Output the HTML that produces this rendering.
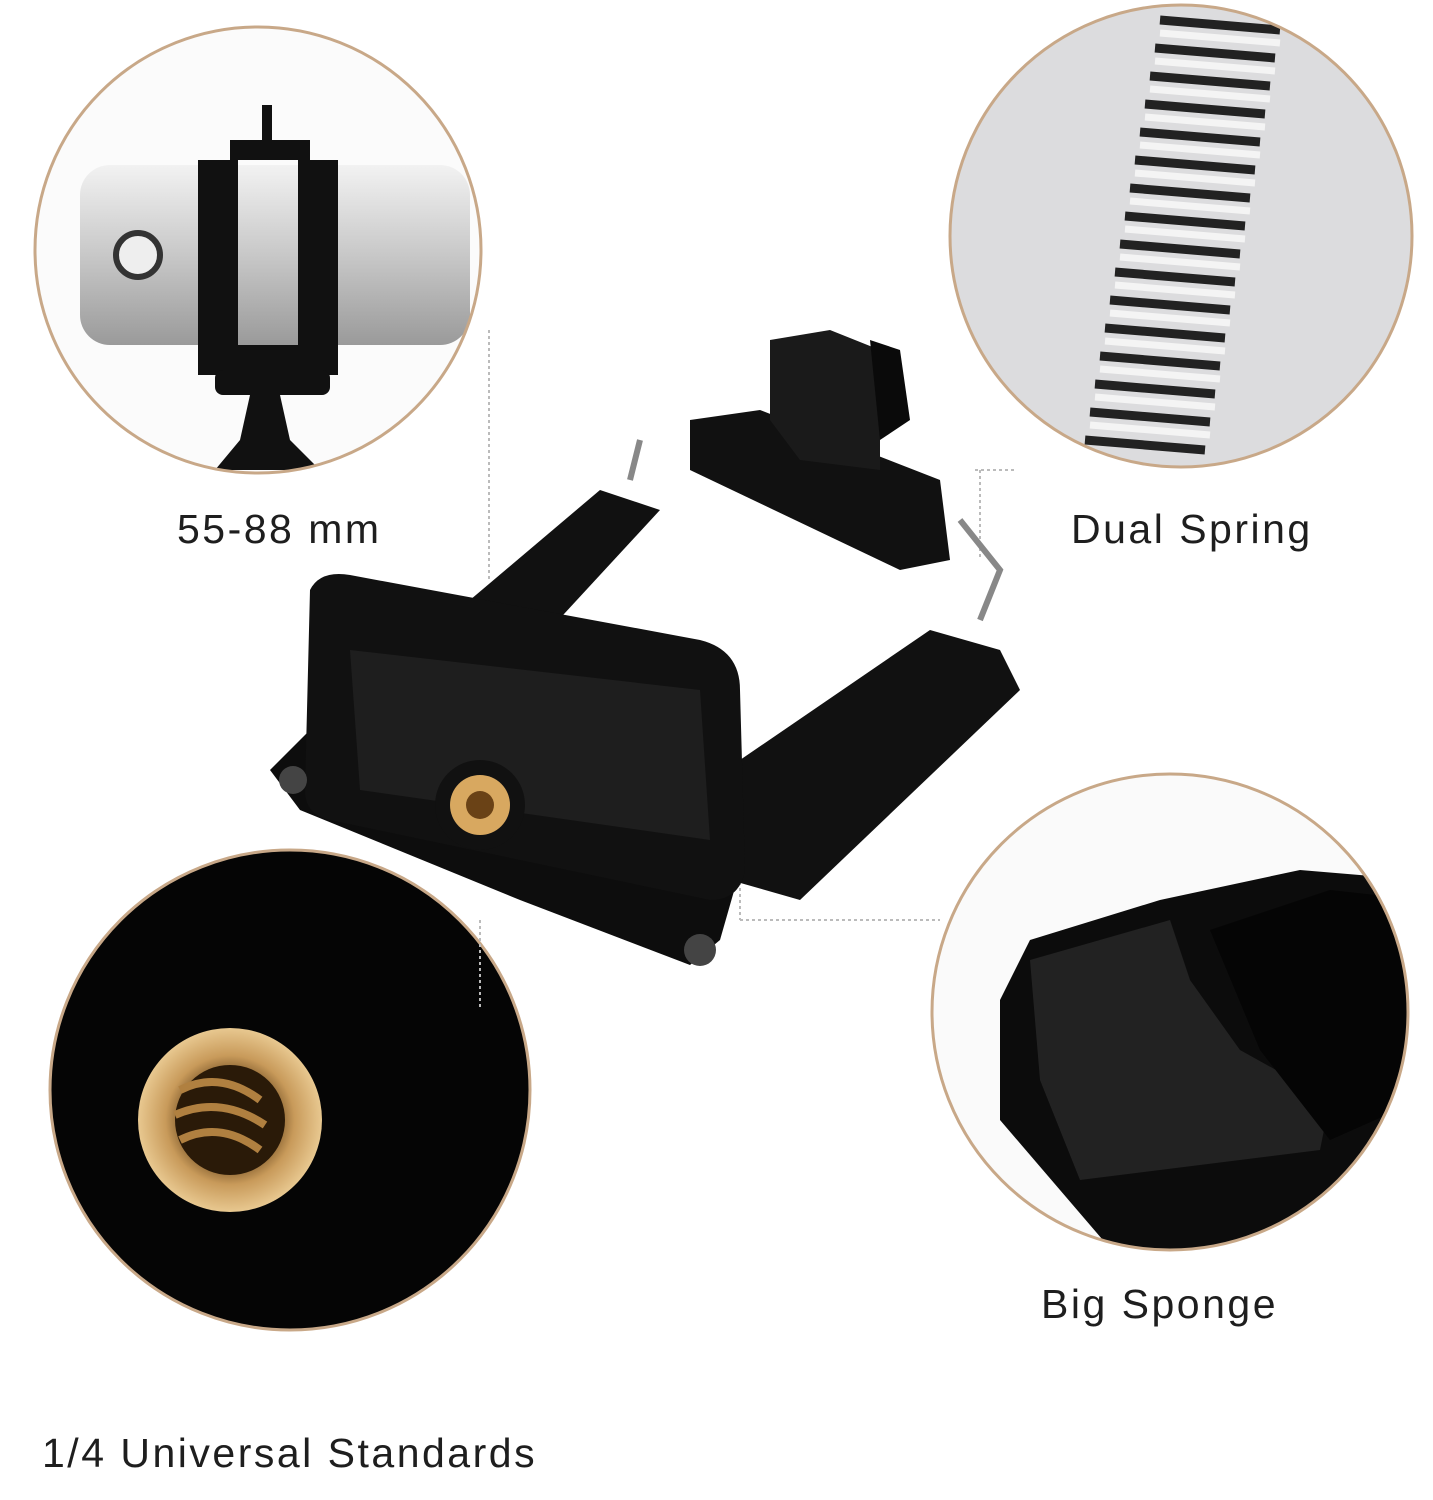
<!DOCTYPE html>
<html><head><meta charset="utf-8"><style>
html,body{margin:0;padding:0;background:#fff;}
body{width:1433px;height:1500px;overflow:hidden;position:relative;font-family:"Liberation Sans",sans-serif;}
.t{position:absolute;font-size:41px;color:#1e1e1e;letter-spacing:2.5px;white-space:nowrap;}
svg{position:absolute;left:0;top:0;}
</style></head><body>
<svg width="1433" height="1500" viewBox="0 0 1433 1500">
<defs>
<clipPath id="c1"><circle cx="258" cy="250" r="223"/></clipPath>
<clipPath id="c2"><circle cx="1181" cy="236" r="231"/></clipPath>
<clipPath id="c3"><circle cx="1170" cy="1012" r="238"/></clipPath>
<clipPath id="c4"><circle cx="290" cy="1090" r="240"/></clipPath>
<linearGradient id="ph" x1="0" y1="0" x2="0" y2="1"><stop offset="0" stop-color="#f2f2f2"/><stop offset="0.5" stop-color="#c8c8c8"/><stop offset="1" stop-color="#9a9a9a"/></linearGradient>
<radialGradient id="gold" cx="0.5" cy="0.5" r="0.5"><stop offset="0.4" stop-color="#5a3a14"/><stop offset="0.7" stop-color="#c89a5a"/><stop offset="1" stop-color="#e8c890"/></radialGradient>
</defs>
<g clip-path="url(#c1)">
<rect x="0" y="0" width="500" height="500" fill="#fbfbfb"/>
<rect x="80" y="165" width="390" height="180" rx="30" fill="url(#ph)"/>
<circle cx="138" cy="255" r="22" fill="#eee" stroke="#333" stroke-width="6"/>
<rect x="198" y="160" width="40" height="205" fill="#111"/>
<rect x="298" y="160" width="40" height="205" fill="#111"/>
<rect x="198" y="345" width="140" height="30" fill="#111"/>
<rect x="230" y="140" width="80" height="20" fill="#111"/>
<rect x="262" y="105" width="10" height="40" fill="#111"/>
<rect x="215" y="370" width="115" height="25" rx="8" fill="#111"/>
<path d="M250 395 L240 440 L215 470 L320 470 L290 440 L280 395 Z" fill="#111"/>
</g>
<circle cx="258" cy="250" r="223" fill="none" stroke="#c8a888" stroke-width="3"/>
<g clip-path="url(#c2)">
<rect x="940" y="0" width="500" height="480" fill="#dcdcde"/>
<g stroke="#222" stroke-width="9" fill="none">
<path d="M1160 20 l120 10 M1155 48 l120 10 M1150 76 l120 10 M1145 104 l120 10 M1140 132 l120 10 M1135 160 l120 10 M1130 188 l120 10 M1125 216 l120 10 M1120 244 l120 10 M1115 272 l120 10 M1110 300 l120 10 M1105 328 l120 10 M1100 356 l120 10 M1095 384 l120 10 M1090 412 l120 10 M1085 440 l120 10"/>
</g>
<g stroke="#f4f4f4" stroke-width="7" fill="none">
<path d="M1160 33 l120 10 M1155 61 l120 10 M1150 89 l120 10 M1145 117 l120 10 M1140 145 l120 10 M1135 173 l120 10 M1130 201 l120 10 M1125 229 l120 10 M1120 257 l120 10 M1115 285 l120 10 M1110 313 l120 10 M1105 341 l120 10 M1100 369 l120 10 M1095 397 l120 10 M1090 425 l120 10"/>
</g>
</g>
<circle cx="1181" cy="236" r="231" fill="none" stroke="#c8a888" stroke-width="3"/>
<g clip-path="url(#c3)">
<rect x="920" y="770" width="500" height="490" fill="#fafafa"/>
<path d="M1000 1000 L1030 940 L1160 900 L1300 870 L1420 880 L1420 1260 L1120 1260 L1000 1120 Z" fill="#0c0c0c"/>
<path d="M1030 960 L1170 920 L1190 980 L1240 1050 L1330 1100 L1320 1150 L1080 1180 L1040 1080 Z" fill="#222"/>
<path d="M1210 930 L1330 890 L1420 900 L1420 1100 L1330 1140 L1260 1050 Z" fill="#050505"/>
</g>
<circle cx="1170" cy="1012" r="238" fill="none" stroke="#c8a888" stroke-width="3"/>
<g clip-path="url(#c4)">
<rect x="40" y="840" width="510" height="500" fill="#050505"/>
<circle cx="230" cy="1120" r="92" fill="url(#gold)"/>
<circle cx="230" cy="1120" r="55" fill="#2a1a08"/>
<path d="M180 1090 q40 -20 80 10 M175 1115 q45 -20 90 10 M180 1140 q40 -20 80 10" stroke="#b08040" stroke-width="8" fill="none"/>
</g>
<circle cx="290" cy="1090" r="240" fill="none" stroke="#c8a888" stroke-width="3"/>
<g stroke="#bbb" stroke-width="2" stroke-dasharray="3 3" fill="none">
<path d="M489 330 V580"/><path d="M480 920 V1010"/>
<path d="M975 470 H1015 M980 470 V560"/>
<path d="M740 920 H940 M740 840 V920"/>
</g>
<g>
<path d="M690 420 L760 410 L940 480 L950 560 L900 570 L690 470 Z" fill="#111"/>
<path d="M770 340 L830 330 L880 350 L880 470 L800 460 L770 420 Z" fill="#1a1a1a"/>
<path d="M870 340 L900 350 L910 420 L880 440 Z" fill="#0a0a0a"/>
<path d="M640 440 L630 480 M960 520 L1000 570 L980 620" stroke="#888" stroke-width="6" fill="none"/>
<path d="M470 600 L600 490 L660 510 L540 640 Z" fill="#111"/>
<path d="M740 760 L930 630 L1000 650 L1020 690 L800 900 L730 880 Z" fill="#111"/>
<path d="M270 770 L320 720 L420 730 L700 800 L740 870 L720 940 L690 965 L520 900 L300 810 Z" fill="#0d0d0d"/>
<path d="M310 590 Q320 570 350 575 L700 640 Q740 650 740 690 L745 870 Q740 900 710 900 L330 820 Q305 815 305 790 Z" fill="#111"/>
<path d="M350 650 L700 690 L710 840 L360 790 Z" fill="#1e1e1e"/>
<circle cx="480" cy="805" r="45" fill="#111"/>
<circle cx="480" cy="805" r="30" fill="#d8a860"/>
<circle cx="480" cy="805" r="14" fill="#6a4216"/>
<circle cx="293" cy="780" r="14" fill="#444"/><circle cx="700" cy="950" r="16" fill="#444"/>
</g>
</svg>
<div class="t" style="left:177px;top:506px;">55-88 mm</div>
<div class="t" style="left:1071px;top:506px;">Dual Spring</div>
<div class="t" style="left:1041px;top:1281px;">Big Sponge</div>
<div class="t" style="left:42px;top:1430px;">1/4 Universal Standards</div>
</body></html>
